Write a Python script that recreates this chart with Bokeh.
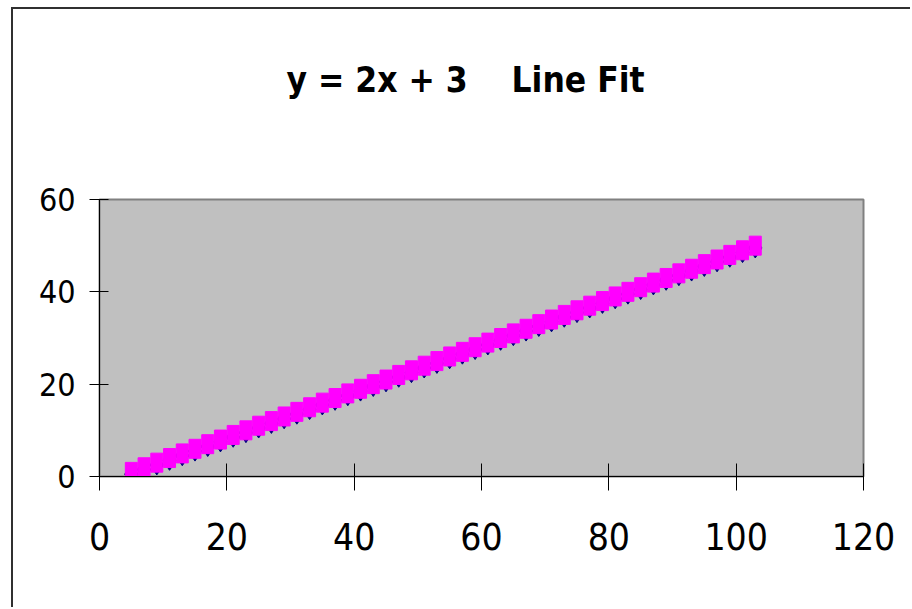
from bokeh.plotting import figure
from bokeh.models import Range1d, FixedTicker
from bokeh.embed import file_html
from bokeh.resources import INLINE

# X variable values and the fitted / observed responses
x_vals = [5, 7, 9, 11, 13, 15, 17, 19, 21, 23,
          25, 27, 29, 31, 33, 35, 37, 39, 41, 43,
          45, 47, 49, 51, 53, 55, 57, 59, 61, 63,
          65, 67, 69, 71, 73, 75, 77, 79, 81, 83,
          85, 87, 89, 91, 93, 95, 97, 99, 101, 103]
predicted_y = [1, 2, 3, 4, 5, 6, 7, 8, 9, 10,
               11, 12, 13, 14, 15, 16, 17, 18, 19, 20,
               21, 22, 23, 24, 25, 26, 27, 28, 29, 30,
               31, 32, 33, 34, 35, 36, 37, 38, 39, 40,
               41, 42, 43, 44, 45, 46, 47, 48, 49, 50]
actual_y = [0.5, 1.5, 2.5, 3.5, 4.5, 5.5, 6.5, 7.5, 8.5, 9.5,
            10.5, 11.5, 12.5, 13.5, 14.5, 15.5, 16.5, 17.5, 18.5, 19.5,
            20.5, 21.5, 22.5, 23.5, 24.5, 25.5, 26.5, 27.5, 28.5, 29.5,
            30.5, 31.5, 32.5, 33.5, 34.5, 35.5, 36.5, 37.5, 38.5, 39.5,
            40.5, 41.5, 42.5, 43.5, 44.5, 45.5, 46.5, 47.5, 48.5, 49.5]
x_ticks = [0, 20, 40, 60, 80, 100, 120]
y_ticks = [0, 20, 40, 60]
# non-breaking spaces keep the wide gap before "Line Fit"
title_text = "y = 2x + 3\u00a0\u00a0\u00a0\u00a0Line Fit"

FONT = "DejaVu Sans Condensed"

p = figure(width=899, height=600, output_backend="svg", toolbar_location=None,
           x_range=Range1d(0, 120), y_range=Range1d(0, 60),
           min_border_left=86, min_border_right=49,
           min_border_top=190, min_border_bottom=133)
p.styles = {"margin-left": "11px", "margin-top": "7px",
            "border-left": "2px solid #303030", "border-top": "2px solid #303030"}

p.background_fill_color = "#C0C0C0"
p.border_fill_color = "white"
p.outline_line_color = "#808080"
p.outline_line_width = 2
p.grid.visible = False

# two blank lines under the title leave the empty band above the plot area
p.title.text = title_text + "\n\u00a0\n\u00a0"
p.title.align = "left"
p.title.vertical_align = "top"
p.title.offset = 187
p.title.standoff = 36
p.title.text_font = FONT
p.title.text_font_style = "bold"
p.title.text_font_size = "35px"
p.title.text_color = "black"

for ax in (p.xaxis[0], p.yaxis[0]):
    ax.axis_line_color = "black"
    ax.major_tick_line_color = "black"
    ax.minor_tick_line_color = None
    ax.major_label_text_font = FONT
    ax.major_label_text_color = "black"

p.xaxis.ticker = FixedTicker(ticks=x_ticks)
p.yaxis.ticker = FixedTicker(ticks=y_ticks)
p.xaxis.major_tick_out = 14
p.xaxis.major_tick_in = 13
p.yaxis.major_tick_out = 10
p.yaxis.major_tick_in = 9
p.xaxis.major_label_text_font_size = "37px"
p.yaxis.major_label_text_font_size = "32px"
p.xaxis.major_label_standoff = 32
p.yaxis.major_label_standoff = 14

# observed values (navy diamonds) under the predicted values (magenta squares)
p.scatter(x_vals, actual_y, marker="diamond", size=20,
          fill_color="#000080", line_color="#000080")
p.rect(x_vals, predicted_y, width=12, height=19,
       width_units="screen", height_units="screen",
       fill_color="#FF00FF", line_color="#FF00FF")

open("out.html", "w").write(file_html(p, INLINE))
